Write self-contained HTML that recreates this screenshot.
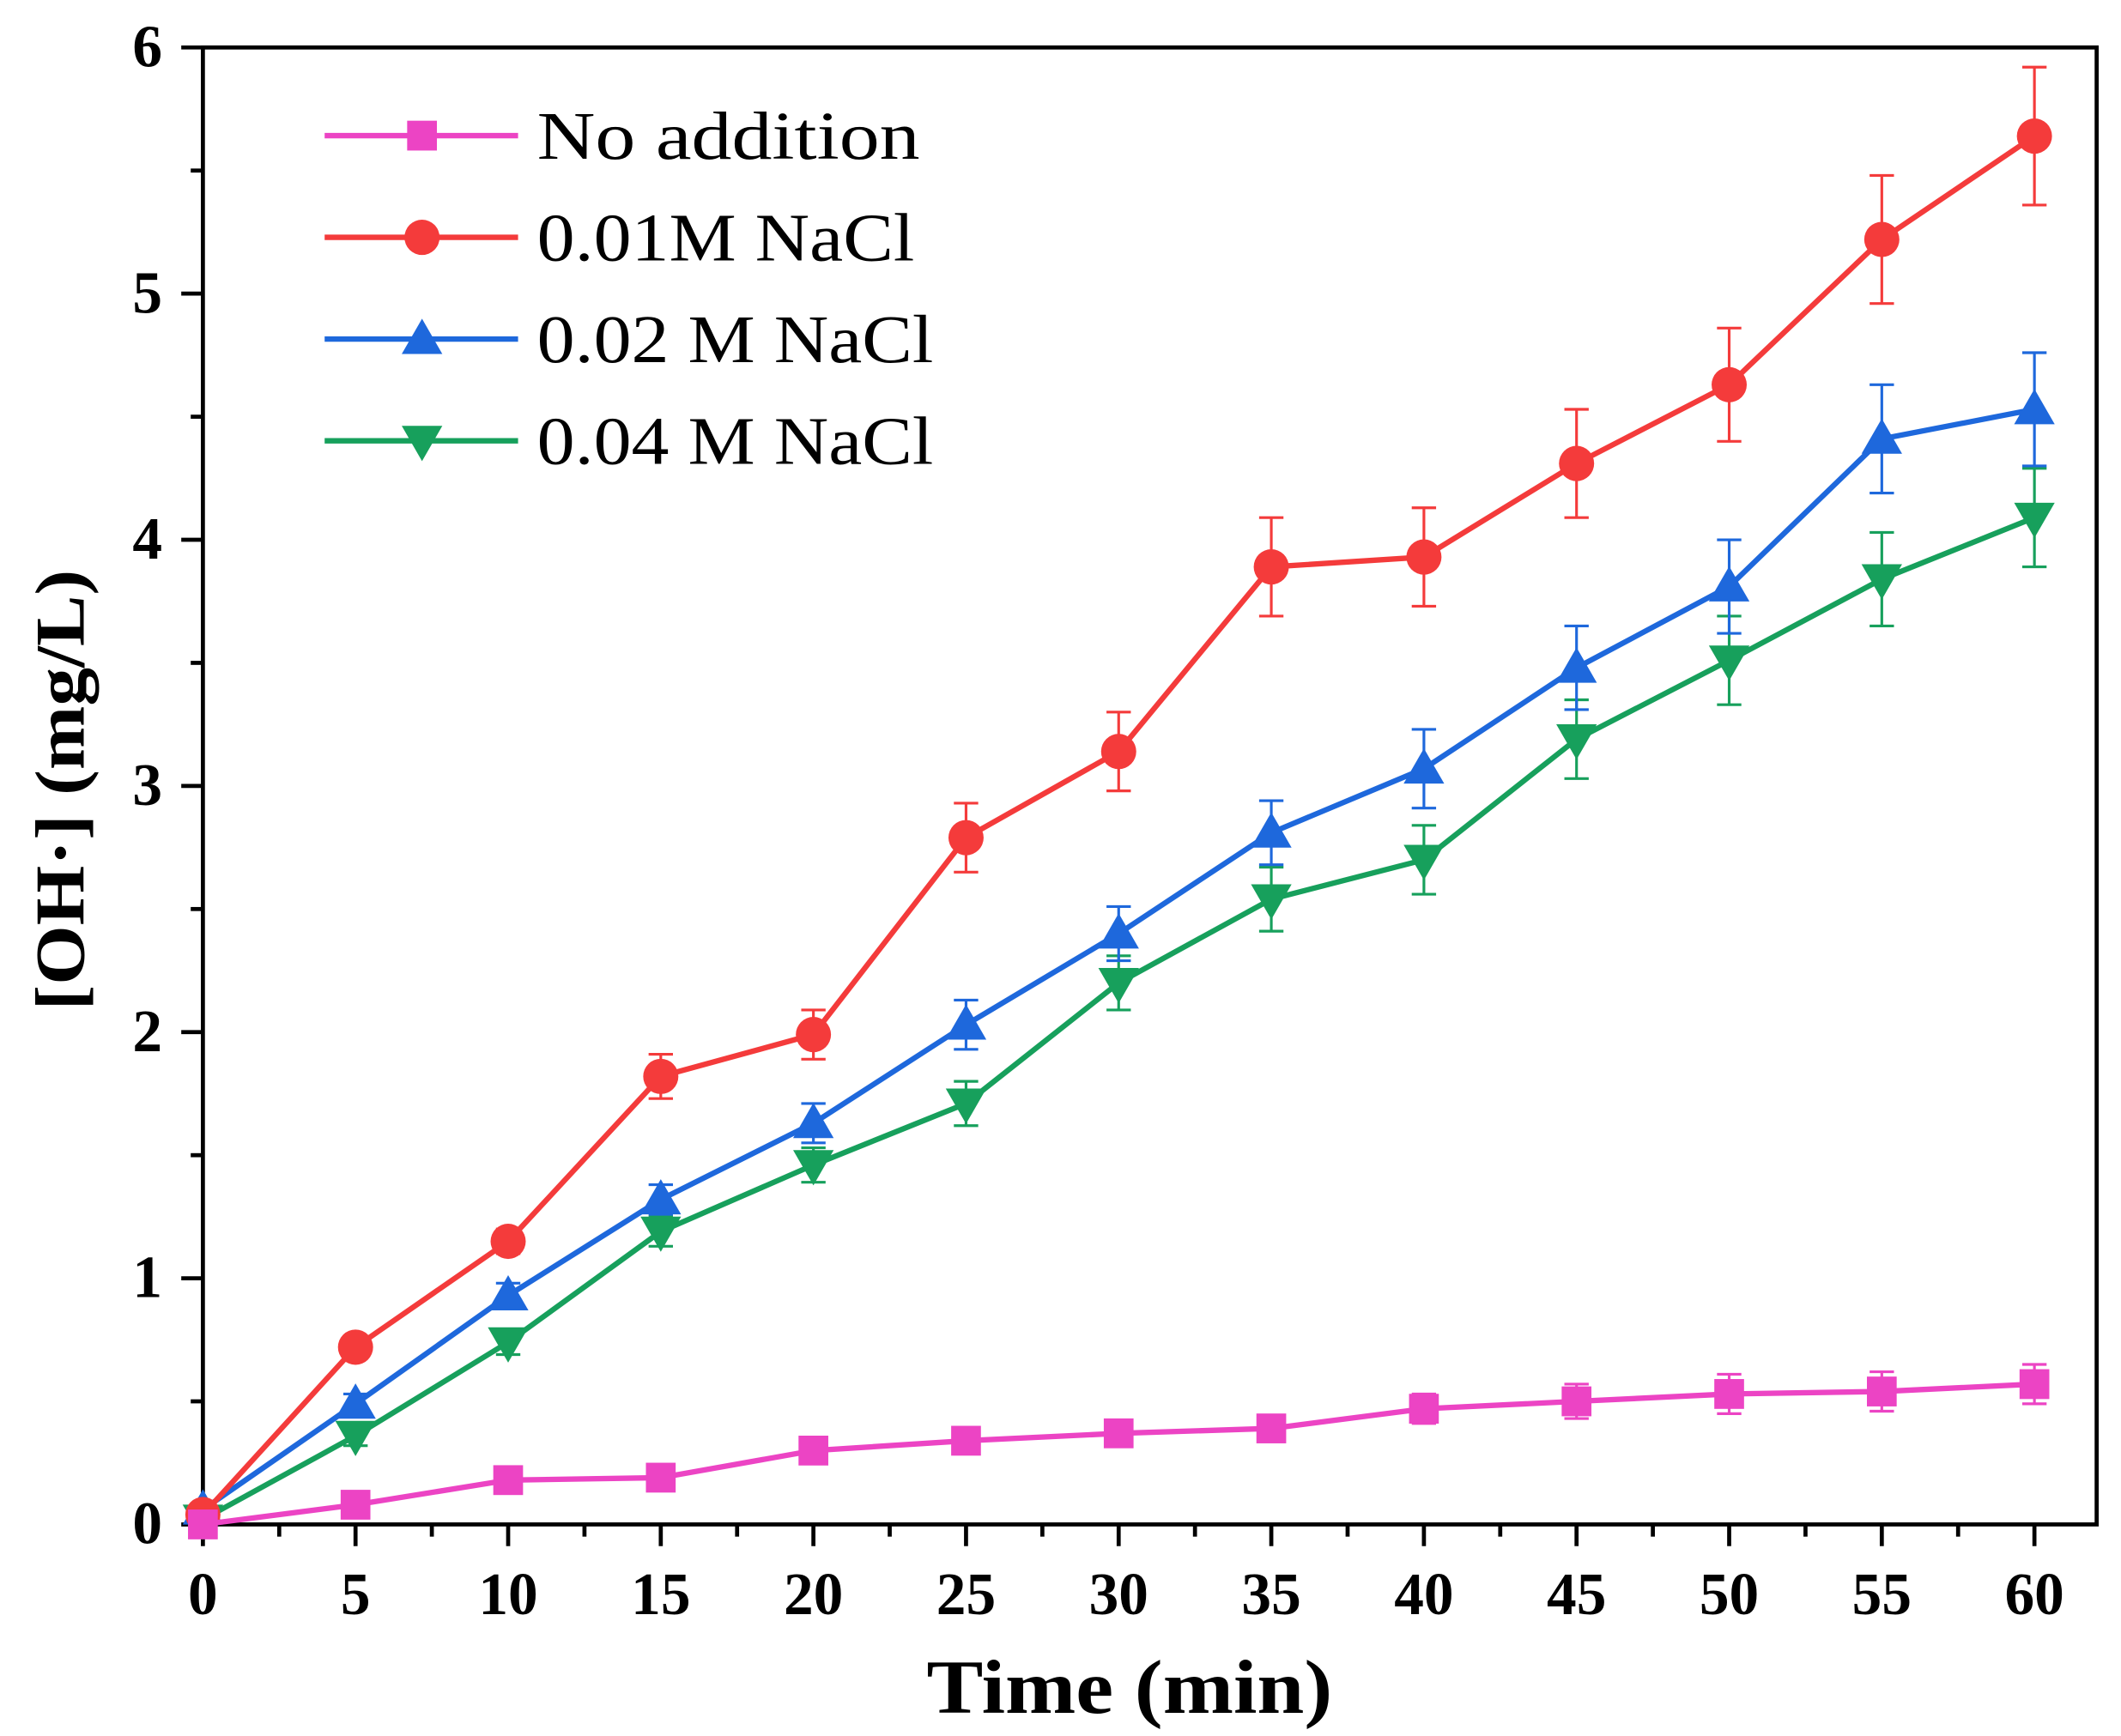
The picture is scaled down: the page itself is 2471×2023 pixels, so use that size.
<!DOCTYPE html>
<html><head><meta charset="utf-8">
<style>
html,body{margin:0;padding:0;background:#fff;}
svg{display:block;font-family:"Liberation Serif",serif;}
</style></head>
<body>
<svg id="chart" width="2471" height="2023" viewBox="0 0 1568 1280" preserveAspectRatio="none" xmlns="http://www.w3.org/2000/svg"></svg>
<script>
const times = [0,5,10,15,20,25,30,35,40,45,50,55,60];
const noAddition = [0,0.08,0.18,0.19,0.30,0.34,0.37,0.39,0.47,0.50,0.53,0.54,0.57];
const noAdditionErr = [0.02,0.03,0.03,0.03,0.04,0.04,0.05,0.05,0.06,0.07,0.08,0.08,0.08];
const nacl001 = [0.04,0.72,1.15,1.82,1.99,2.79,3.14,3.89,3.93,4.31,4.63,5.22,5.64];
const nacl001Err = [0.03,0.04,0.05,0.09,0.10,0.14,0.16,0.20,0.20,0.22,0.23,0.26,0.28];
const nacl002 = [0.06,0.49,0.93,1.32,1.63,2.03,2.40,2.81,3.07,3.48,3.81,4.41,4.53];
const nacl002Err = [0.02,0.04,0.05,0.06,0.08,0.10,0.11,0.13,0.16,0.17,0.19,0.22,0.23];
const nacl004 = [0.02,0.36,0.74,1.19,1.46,1.71,2.20,2.54,2.70,3.19,3.51,3.84,4.09];
const nacl004Err = [0.02,0.04,0.05,0.06,0.07,0.09,0.11,0.13,0.14,0.16,0.18,0.19,0.20];
const xTicks = [0,5,10,15,20,25,30,35,40,45,50,55,60];
const yTicks = [0,1,2,3,4,5,6];
const seriesNames = ["No addition","0.01M NaCl","0.02 M NaCl","0.04 M NaCl"];
const legendWidths = [283,279,293,293];

const L=150,R=1550,T=35,B=1124;
const x0=150,x60=1504;
const sx=v=>x0+(v/60)*(x60-x0);
const sy=v=>B-(v/6)*(B-T);
const svg=document.getElementById('chart');
const NS='http://www.w3.org/2000/svg';
function mk(tag,attrs,parent){const e=document.createElementNS(NS,tag);for(const k in attrs)e.setAttribute(k,attrs[k]);(parent||svg).appendChild(e);return e;}

const frame=mk('rect',{x:L,y:T,width:R-L,height:B-T,fill:'none',stroke:'#000','stroke-width':3});



xTicks.forEach(t=>{
  const x=sx(t);
  const tk=mk('line',{x1:x,y1:B,x2:x,y2:B+16,stroke:'#000','stroke-width':3});
  
  
  const lb=mk('text',{x:x,y:B+66,'text-anchor':'middle','font-size':44,'font-weight':'bold'});
  lb.textContent=t;
  
  
  if(t<60){
    const mx=sx(t+2.5);
    const m=mk('line',{x1:mx,y1:B,x2:mx,y2:B+9,stroke:'#000','stroke-width':3});
    
    
  }
});
yTicks.forEach(t=>{
  const y=sy(t);
  const tk=mk('line',{x1:L-16,y1:y,x2:L,y2:y,stroke:'#000','stroke-width':3});
  
  
  const lb=mk('text',{x:L-30,y:y+14,'text-anchor':'end','font-size':44,'font-weight':'bold'});
  lb.textContent=t;
  
  
  if(t<6){
    const my=sy(t+0.5);
    const m=mk('line',{x1:L-9,y1:my,x2:L,y2:my,stroke:'#000','stroke-width':3});
    
    
  }
});
const xt=mk('text',{x:685,y:1263,'font-size':56,'font-weight':'bold',textLength:300,lengthAdjust:'spacingAndGlyphs'});
xt.textContent='Time (min)';


const yt=mk('text',{x:0,y:0,'font-size':52,'font-weight':'bold',textLength:325,lengthAdjust:'spacingAndGlyphs',transform:'translate(62,745) rotate(-90)'});
yt.textContent='[OH·] (mg/L)';



function marker(kind,x,y,color,parent){
  let m;
  if(kind==='square') m=mk('rect',{x:x-11,y:y-11,width:22,height:22,fill:color},parent);
  else if(kind==='circle') m=mk('circle',{cx:x,cy:y,r:13,fill:color},parent);
  else if(kind==='up') m=mk('polygon',{points:`${x},${y-15} ${x-15},${y+11} ${x+15},${y+11}`,fill:color},parent);
  else m=mk('polygon',{points:`${x},${y+15} ${x-15},${y-11} ${x+15},${y-11}`,fill:color},parent);
  return m;
}

const series=[
  {name:'no-addition',vals:noAddition,err:noAdditionErr,color:'#ec44c4',kind:'square'},
  {name:'nacl-0-01m',vals:nacl001,err:nacl001Err,color:'#f43b3b',kind:'circle'},
  {name:'nacl-0-02m',vals:nacl002,err:nacl002Err,color:'#1e68dc',kind:'up'},
  {name:'nacl-0-04m',vals:nacl004,err:nacl004Err,color:'#17a05c',kind:'down'}
];
series.slice().reverse().forEach(s=>{
  const g=mk('g',{});
  
  
  s.vals.forEach((v,i)=>{
    const x=sx(times[i]),y1=sy(v+s.err[i]),y2=sy(v-s.err[i]);
    const e=mk('path',{d:`M${x},${y1}V${y2}M${x-9},${y1}H${x+9}M${x-9},${y2}H${x+9}`,stroke:s.color,'stroke-width':2,fill:'none'},g);
    
    
  });
  const pl=mk('polyline',{points:s.vals.map((v,i)=>sx(times[i])+','+sy(v)).join(' '),fill:'none',stroke:s.color,'stroke-width':4},g);
  
  
  s.vals.forEach((v,i)=>{
    const m=marker(s.kind,sx(times[i]),sy(v),s.color,g);
    
    
  });
});

const lg=mk('g',{});


series.forEach((s,i)=>{
  const y=100+i*75;
  const ln=mk('line',{x1:240,y1:y,x2:383,y2:y,stroke:s.color,'stroke-width':4},lg);
  
  
  const m=marker(s.kind,312,y,s.color,lg);
  
  
  const t=mk('text',{x:397,y:y+17,'font-size':50,textLength:legendWidths[i],lengthAdjust:'spacingAndGlyphs'},lg);
  t.textContent=seriesNames[i];
  
  
});
</script>
</body></html>
